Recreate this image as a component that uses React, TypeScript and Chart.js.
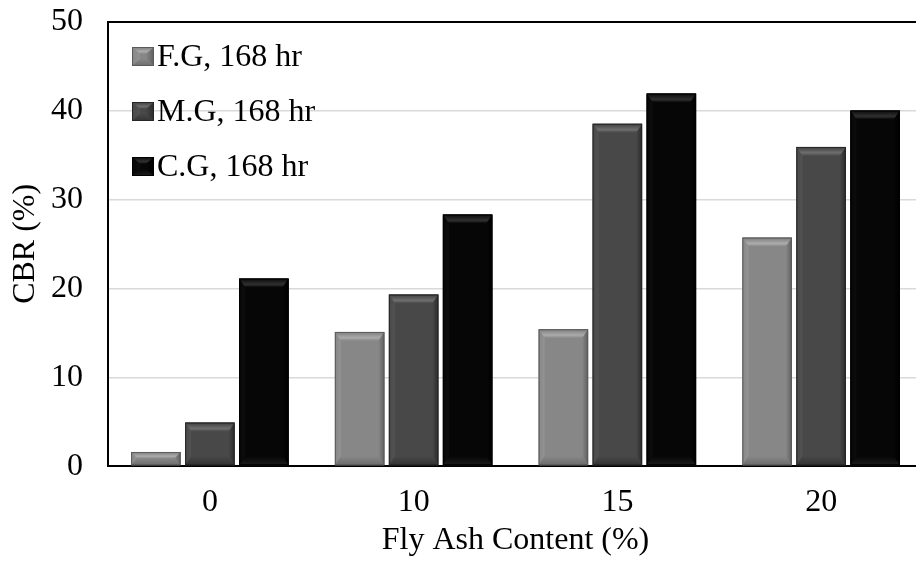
import React, { useEffect, useRef } from "react";
import { Chart, registerables } from "chart.js";

Chart.register(...registerables);

const categories = ["0", "10", "15", "20"];
const seriesLabels = ["F.G, 168 hr", "M.G, 168 hr", "C.G, 168 hr"];
const fgValues = [1.6, 15.1, 15.4, 25.7];
const mgValues = [4.9, 19.3, 38.5, 35.9];
const cgValues = [21.1, 28.3, 41.9, 40.0];
const yTicks = [0, 10, 20, 30, 40, 50];

const FONT = '"Liberation Serif", "Times New Roman", serif';

type Shade = { face: string; top: string; hi: string; left: string; right: string; bottom: string; border: string };
const SHADES: Shade[] = [
  { face: "#878787", top: "#7c7c7c", hi: "#ababab", left: "#939393", right: "#5e5e5e", bottom: "#6c6c6c", border: "#5a5a5a" },
  { face: "#484848", top: "#3e3e3e", hi: "#6e6e6e", left: "#535353", right: "#2a2a2a", bottom: "#333333", border: "#262626" },
  { face: "#060606", top: "#0a0a0a", hi: "#303030", left: "#0d0d0d", right: "#000000", bottom: "#1c1c1c", border: "#000000" },
];

function drawBevel(ctx: CanvasRenderingContext2D, l: number, t: number, r: number, b: number, sv: number, bv: number, s: Shade, fillFace: boolean) {
  ctx.save();
  if (fillFace) {
    ctx.fillStyle = s.face;
    ctx.fillRect(l, t, r - l, b - t);
  }
  // top
  let g = ctx.createLinearGradient(0, t, 0, t + bv);
  g.addColorStop(0, s.top);
  g.addColorStop(0.65, s.hi);
  g.addColorStop(1, s.face);
  ctx.fillStyle = g;
  ctx.beginPath();
  ctx.moveTo(l, t); ctx.lineTo(r, t); ctx.lineTo(r - sv, t + bv); ctx.lineTo(l + sv, t + bv); ctx.closePath();
  ctx.fill();
  // left
  g = ctx.createLinearGradient(l, 0, l + sv, 0);
  g.addColorStop(0, s.face);
  g.addColorStop(1, s.left);
  ctx.fillStyle = g;
  ctx.beginPath();
  ctx.moveTo(l, t); ctx.lineTo(l + sv, t + bv); ctx.lineTo(l + sv, b - bv); ctx.lineTo(l, b); ctx.closePath();
  ctx.fill();
  // right
  g = ctx.createLinearGradient(r - sv, 0, r, 0);
  g.addColorStop(0, s.face);
  g.addColorStop(1, s.right);
  ctx.fillStyle = g;
  ctx.beginPath();
  ctx.moveTo(r, t); ctx.lineTo(r - sv, t + bv); ctx.lineTo(r - sv, b - bv); ctx.lineTo(r, b); ctx.closePath();
  ctx.fill();
  // bottom
  g = ctx.createLinearGradient(0, b - bv, 0, b);
  g.addColorStop(0, s.face);
  g.addColorStop(1, s.bottom);
  ctx.fillStyle = g;
  ctx.beginPath();
  ctx.moveTo(l, b); ctx.lineTo(l + sv, b - bv); ctx.lineTo(r - sv, b - bv); ctx.lineTo(r, b); ctx.closePath();
  ctx.fill();
  ctx.strokeStyle = s.border;
  ctx.lineWidth = 1;
  ctx.strokeRect(l + 0.5, t + 0.5, r - l - 1, b - t - 1);
  ctx.restore();
}

const bevelPlugin = {
  id: "bevelBars",
  afterDatasetsDraw(chart: any) {
    const ctx = chart.ctx as CanvasRenderingContext2D;
    chart.data.datasets.forEach((_ds: any, di: number) => {
      const meta = chart.getDatasetMeta(di);
      const s = SHADES[di];
      meta.data.forEach((el: any) => {
        const p = el.getProps(["x", "y", "base", "width"], true);
        const l = p.x - p.width / 2;
        const r = p.x + p.width / 2;
        const t = Math.min(p.y, p.base);
        const b = Math.max(p.y, p.base);
        const h = b - t;
        const bv = Math.min(9, h / 2);
        const sv = Math.min(6, p.width / 4, h / 2);
        drawBevel(ctx, l, t, r, b, sv, bv, s, false);
      });
    });
  },
};

const legendPlugin = {
  id: "innerLegend",
  afterDraw(chart: any) {
    const ctx = chart.ctx as CanvasRenderingContext2D;
    const area = chart.chartArea;
    ctx.save();
    chart.data.datasets.forEach((ds: any, i: number) => {
      const cy = area.top + 35 + i * 55;
      const bx = area.left + 24;
      drawBevel(ctx, bx, cy - 9.5, bx + 22, cy + 9.5, 8, 7, SHADES[i], true);
      ctx.font = `32px ${FONT}`;
      ctx.textBaseline = "middle";
      ctx.textAlign = "left";
      ctx.fillStyle = "#000";
      ctx.fillText(ds.label, bx + 25, cy + 1);
    });
    ctx.restore();
  },
};

export default function App() {
  const ref = useRef<HTMLCanvasElement | null>(null);
  useEffect(() => {
    document.body.style.margin = "0";
    const canvas = ref.current!;
    const chart = new Chart(canvas, {
      type: "bar",
      data: {
        labels: categories,
        datasets: [
          { label: seriesLabels[0], data: fgValues, backgroundColor: SHADES[0].face },
          { label: seriesLabels[1], data: mgValues, backgroundColor: SHADES[1].face },
          { label: seriesLabels[2], data: cgValues, backgroundColor: SHADES[2].face },
        ],
      },
      options: {
        responsive: false,
        animation: false,
        devicePixelRatio: 1,
        datasets: { bar: { categoryPercentage: 0.795, barPercentage: 0.917 } } as any,
        layout: { padding: { left: 2, right: 7, top: 21.5, bottom: 4 } },
        plugins: { legend: { display: false }, tooltip: { enabled: false } },
        scales: {
          x: {
            grid: { display: false },
            border: { display: true, color: "#000", width: 2 },
            ticks: { color: "#000", font: { family: FONT, size: 32 }, padding: 9 },
            title: { display: true, text: "Fly Ash Content (%)", color: "#000", font: { family: FONT, size: 32 }, padding: { top: -9, bottom: 4 } },
          },
          y: {
            min: 0,
            max: 50,
            afterBuildTicks: (axis: any) => {
              axis.ticks = yTicks.map((v) => ({ value: v }));
            },
            afterFit: (axis: any) => {
              axis.paddingTop = 0;
            },
            grid: {
              drawTicks: false,
              color: (c: any) => (c.tick && (c.tick.value === 50 || c.tick.value === 0) ? "#000" : "#d9d9d9"),
              lineWidth: (c: any) => (c.tick && (c.tick.value === 50 || c.tick.value === 0) ? 2 : 1.5),
            },
            border: { display: true, color: "#000", width: 2 },
            ticks: { color: "#000", font: { family: FONT, size: 32 }, padding: 25 },
            title: { display: true, text: "CBR (%)", color: "#000", font: { family: FONT, size: 32 }, padding: { top: 4, bottom: -18.4 } },
          },
        },
      },
      plugins: [bevelPlugin, legendPlugin],
    });
    return () => chart.destroy();
  }, []);
  return (
    <div style={{ position: "fixed", left: 0, top: 0, width: 930, height: 568, overflow: "hidden", background: "#fff" }}>
      <canvas ref={ref} width={930} height={568} style={{ display: "block", width: 930, height: 568 }} />
    </div>
  );
}
